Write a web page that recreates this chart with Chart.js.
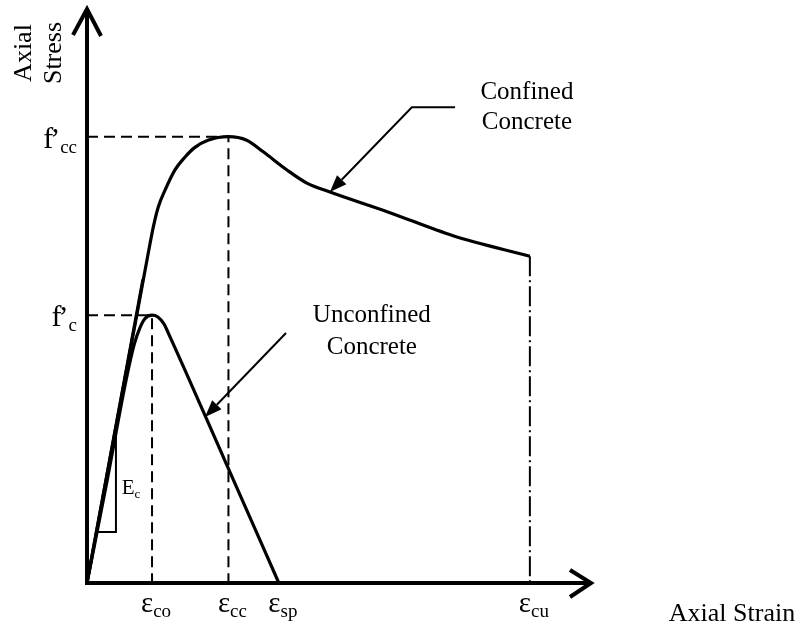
<!DOCTYPE html>
<html>
<head>
<meta charset="utf-8">
<script src="https://cdn.jsdelivr.net/npm/chart.js@4.4.1/dist/chart.umd.min.js"></script>
<style>
  html, body { margin: 0; padding: 0; background: #fff; }
  #wrap { width: 799px; height: 625px; }
</style>
</head>
<body>
<div id="wrap"><canvas id="c" width="799" height="625"></canvas></div>
<script>
// Characteristic strains marked on the horizontal axis
const strainMarks = [0.002, 0.00435, 0.0059, 0.01362];
const strainSubs = ['co', 'cc', 'sp', 'cu'];
// Characteristic stresses marked on the vertical axis (MPa)
const stressMarks = [50, 30];
const stressSubs = ['cc', 'c'];

// Confined concrete stress-strain curve
const confinedStrain = [0, 0.00074, 0.00153, 0.00186, 0.00204, 0.00219, 0.0024, 0.00271, 0.00301, 0.00332, 0.00372, 0.00435, 0.00491, 0.00542, 0.00614, 0.00676, 0.00747, 0.00923, 0.01126, 0.01362];
const confinedStress = [0, 14.6, 30.0, 36.5, 39.9, 42.1, 44.0, 46.3, 47.7, 48.8, 49.6, 50.0, 49.6, 48.3, 46.3, 44.8, 43.8, 41.6, 38.9, 36.6];

// Unconfined concrete stress-strain curve
const unconfinedStrain = [0, 0.00062, 0.0012, 0.00145, 0.00163, 0.00178, 0.002, 0.00218, 0.00237, 0.00255, 0.00423, 0.0059];
const unconfinedStress = [0, 11.5, 22.7, 26.7, 28.6, 29.6, 30.0, 29.8, 29.0, 27.6, 13.8, 0];

// Initial tangent (modulus Ec) and its slope triangle
const tangentStrain = [0, 0.00172];
const tangentStress = [0, 34.0];
const slopeStrain = [0.00034, 0.00089, 0.00089];
const slopeStress = [5.7, 5.7, 16.6];

const X_MAX = 0.0155;
const Y_MAX = 64.3;
const SERIF = '"Liberation Serif", "Times New Roman", serif';

const pts = (xs, ys) => xs.map((x, i) => ({ x, y: ys[i] }));

// Callouts: text block with a leader arrow, in strain / stress units
const callouts = [
  { lines: ['Confined', 'Concrete'], x: 0.01353, y: 54.9, gap: 30,
    path: [[0.01132, 53.3], [0.00999, 53.3]], tip: [0.00747, 43.8] },
  { lines: ['Unconfined', 'Concrete'], x: 0.00876, y: 30.0, gap: 32,
    path: [[0.00612, 28.0]], tip: [0.00363, 18.6] }
];
const ecLabel = { x: 0.00107, y: 10.0 };

// main letter followed by a lowered, smaller subscript
function subText(ctx, main, sub, x, y, align, mainPx, subPx, drop, prime) {
  ctx.font = mainPx + 'px ' + SERIF;
  let wMain = ctx.measureText(main).width;
  let wPrime = 0;
  if (prime) wPrime = ctx.measureText(prime).width - 3;
  ctx.font = subPx + 'px ' + SERIF;
  const wSub = ctx.measureText(sub).width;
  const total = wMain + wPrime + wSub;
  let left = x;
  if (align === 'center') left = x - total / 2;
  if (align === 'right') left = x - total;
  ctx.textAlign = 'left';
  ctx.textBaseline = 'alphabetic';
  ctx.font = mainPx + 'px ' + SERIF;
  ctx.fillText(main, left, y);
  if (prime) ctx.fillText(prime, left + wMain - 3, y);
  ctx.font = subPx + 'px ' + SERIF;
  ctx.fillText(sub, left + wMain + wPrime, y + drop);
}

function arrowHead(ctx, fx, fy, tx, ty, len, half) {
  const a = Math.atan2(ty - fy, tx - fx);
  const bx = tx - len * Math.cos(a), by = ty - len * Math.sin(a);
  ctx.beginPath();
  ctx.moveTo(tx, ty);
  ctx.lineTo(bx + half * Math.sin(a), by - half * Math.cos(a));
  ctx.lineTo(bx - half * Math.sin(a), by + half * Math.cos(a));
  ctx.closePath();
  ctx.fill();
  return [bx, by];
}

const diagramPlugin = {
  id: 'diagram',
  afterDatasetsDraw(chart) {
    const { ctx, chartArea: a, scales } = chart;
    const X = v => scales.x.getPixelForValue(v);
    const Y = v => scales.y.getPixelForValue(v);
    ctx.save();
    ctx.strokeStyle = '#000';
    ctx.fillStyle = '#000';
    ctx.lineCap = 'butt';
    ctx.lineJoin = 'miter';

    // axes with open arrowheads
    const ox = X(0), oy = Y(0);
    ctx.lineWidth = 4;
    ctx.beginPath();
    ctx.moveTo(ox, oy + 2);
    ctx.lineTo(ox, a.top + 1);
    ctx.moveTo(ox - 2, oy);
    ctx.lineTo(a.right - 1, oy);
    ctx.stroke();
    ctx.beginPath();
    ctx.moveTo(ox - 14, a.top + 26);
    ctx.lineTo(ox, a.top);
    ctx.lineTo(ox + 14, a.top + 27);
    ctx.moveTo(a.right - 21, oy - 13);
    ctx.lineTo(a.right, oy);
    ctx.lineTo(a.right - 21, oy + 14);
    ctx.stroke();

    // axis titles
    ctx.font = '26px ' + SERIF;
    ctx.textAlign = 'center';
    ctx.textBaseline = 'middle';
    ctx.fillText('Axial Strain', a.right + 141, oy + 31);
    ctx.save();
    ctx.translate(ox - 63, a.top + 44);
    ctx.rotate(-Math.PI / 2);
    ctx.fillText('Axial', 0, 0);
    ctx.restore();
    ctx.save();
    ctx.translate(ox - 33, a.top + 44);
    ctx.rotate(-Math.PI / 2);
    ctx.fillText('Stress', 0, 0);
    ctx.restore();

    // strain marks
    strainMarks.forEach((s, i) => {
      subText(ctx, '\u03B5', strainSubs[i], X(s) + 4, oy + 29, 'center', 29, 19, 5);
    });
    // stress marks
    stressMarks.forEach((f, i) => {
      subText(ctx, 'f', stressSubs[i], ox - 10, Y(f) + 11, 'right', 30, 19, 5, '\u2019');
    });

    // Ec label
    subText(ctx, 'E', 'c', X(ecLabel.x), Y(ecLabel.y), 'left', 21, 13, 4);

    // callouts
    ctx.lineWidth = 2;
    callouts.forEach(c => {
      ctx.font = '25px ' + SERIF;
      ctx.textAlign = 'center';
      ctx.textBaseline = 'middle';
      c.lines.forEach((t, k) => ctx.fillText(t, X(c.x), Y(c.y) + k * c.gap));
      const p = c.path.map(q => [X(q[0]), Y(q[1])]);
      const tip = [X(c.tip[0]), Y(c.tip[1])];
      const last = p[p.length - 1];
      const base = arrowHead(ctx, last[0], last[1], tip[0], tip[1], 17, 6.5);
      ctx.beginPath();
      ctx.moveTo(p[0][0], p[0][1]);
      for (let k = 1; k < p.length; k++) ctx.lineTo(p[k][0], p[k][1]);
      ctx.lineTo(base[0], base[1]);
      ctx.stroke();
    });
    ctx.restore();
  }
};

const curve = (data) => ({
  data, showLine: true, borderColor: '#000', borderWidth: 3.2,
  pointRadius: 0, tension: 0.4, cubicInterpolationMode: 'monotone', clip: false
});
const straight = (data, width, dash) => ({
  data, showLine: true, borderColor: '#000', borderWidth: width, borderDash: dash || [],
  pointRadius: 0, tension: 0, clip: false
});

new Chart(document.getElementById('c'), {
  type: 'scatter',
  data: {
    datasets: [
      curve(pts(confinedStrain, confinedStress)),
      curve(pts(unconfinedStrain, unconfinedStress)),
      straight(pts(tangentStrain, tangentStress), 3.2),
      straight(pts(slopeStrain, slopeStress), 2),
      straight([{ x: 0, y: stressMarks[0] }, { x: strainMarks[1], y: stressMarks[0] }, { x: strainMarks[1], y: 0 }], 2, [11, 6]),
      straight([{ x: 0, y: stressMarks[1] }, { x: strainMarks[0], y: stressMarks[1] }, { x: strainMarks[0], y: 0 }], 2, [11, 6]),
      straight([{ x: strainMarks[3], y: confinedStress[confinedStress.length - 1] }, { x: strainMarks[3], y: 0 }], 2, [20, 4, 2, 4])
    ]
  },
  options: {
    responsive: false,
    animation: false,
    layout: { padding: { left: 87, right: 208, top: 9, bottom: 42 } },
    plugins: { legend: { display: false }, tooltip: { enabled: false } },
    scales: {
      x: { type: 'linear', min: 0, max: X_MAX, display: false },
      y: { type: 'linear', min: 0, max: Y_MAX, display: false }
    }
  },
  plugins: [diagramPlugin]
});
</script>
</body>
</html>
